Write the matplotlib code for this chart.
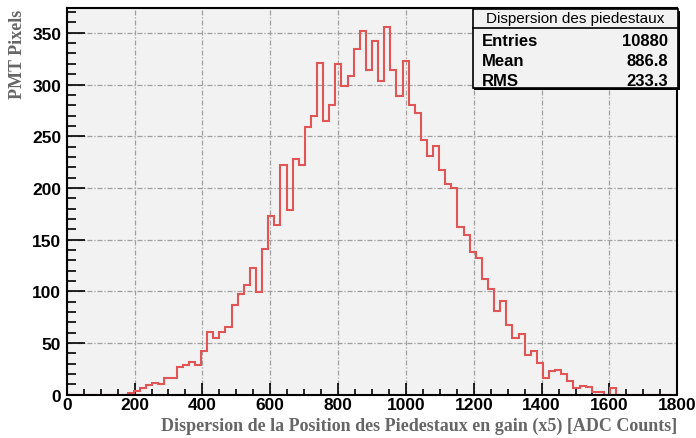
#!/usr/bin/env python
import numpy as np
import matplotlib
matplotlib.use("Agg")
import matplotlib.pyplot as plt
from matplotlib.patches import Rectangle
from matplotlib.ticker import MultipleLocator

# histogram: 100 bins from 0 to 1800 (width 18)
x_lo = 0
x_hi = 1800
n_bins = 100
counts = [0, 0, 0, 0, 0, 0, 0, 0, 0, 0,
          2, 4, 6, 9, 11, 10, 16, 16, 27, 29,
          32, 29, 42, 61, 55, 61, 65, 87, 97, 106,
          123, 99, 141, 173, 164, 222, 179, 228, 222, 259,
          270, 321, 265, 280, 320, 299, 308, 334, 352, 314,
          342, 303, 356, 314, 289, 323, 280, 272, 246, 231,
          241, 217, 204, 200, 162, 154, 138, 132, 112, 102,
          81, 91, 67, 55, 59, 38, 42, 31, 16, 23,
          24, 20, 13, 6, 8, 7, 3, 3, 0, 6,
          0, 0, 0, 0, 0, 0, 0, 0, 0, 0]

stats_title = "Dispersion des piedestaux"
stats_names = ["Entries", "Mean", "RMS"]
stats_values = ["10880", "886.8", "233.3"]

x_title = "Dispersion de la Position des Piedestaux en gain (x5) [ADC Counts]"
y_title = "PMT Pixels"

edges = np.linspace(x_lo, x_hi, n_bins + 1)

W, H = 696, 439
fig = plt.figure(figsize=(W / 100, H / 100), dpi=100)
fig.patch.set_facecolor("white")

# frame in pixels
left, right, top, bottom = 66.7, 677.3, 9.3, 395.7
ax = fig.add_axes([left / W, 1 - bottom / H, (right - left) / W, (bottom - top) / H])
ax.set_facecolor("#f2f2f2")

ax.stairs(counts, edges, color="#e05555", lw=1.5, zorder=2)

ax.set_xlim(x_lo, x_hi)
ax.set_ylim(0, 373.7)

ax.xaxis.set_major_locator(MultipleLocator(200))
ax.xaxis.set_minor_locator(MultipleLocator(50))
ax.yaxis.set_major_locator(MultipleLocator(50))
ax.yaxis.set_minor_locator(MultipleLocator(10))

for s in ax.spines.values():
    s.set_linewidth(1.5)

grid_style = dict(color="#a0a0a0", lw=0.9, dashes=(4, 1.5, 1, 1.5))
ax.grid(True, which="major", **grid_style)
ax.set_axisbelow(True)

tick_font = {"family": "Liberation Sans", "weight": "bold", "size": 12.5}
ax.tick_params(axis="y", which="major", direction="in", length=13, width=1.2, pad=4)
ax.tick_params(axis="y", which="minor", direction="in", length=6.5, width=1.2)
ax.tick_params(axis="x", which="major", direction="in", length=8.3, width=1.2, pad=2)
ax.tick_params(axis="x", which="minor", direction="in", length=4.2, width=1.2)
for lab in ax.get_xticklabels() + ax.get_yticklabels():
    lab.set_fontproperties(matplotlib.font_manager.FontProperties(**tick_font))

title_font = dict(family="Liberation Serif", weight="bold", size=13, color="#666666")
fig.text(right / W, 1 - 426 / H, x_title, ha="right", va="center", **title_font)
fig.text(18 / W, 1 - top / H, y_title, ha="center", va="top", rotation=90, **title_font)

# stats box
bx0, bx1, by0, by1 = 472.5, 677.5, 10, 88.5
sh = 2.0
fig.patches.append(Rectangle(((bx0 + sh) / W, 1 - (by1 + sh) / H), (bx1 - bx0) / W, (by1 - by0) / H,
                             transform=fig.transFigure, facecolor="black", edgecolor="black", lw=0, zorder=5))
fig.patches.append(Rectangle((bx0 / W, 1 - by1 / H), (bx1 - bx0) / W, (by1 - by0) / H,
                             transform=fig.transFigure, facecolor="#f2f2f2", edgecolor="black", lw=1.2, zorder=6))
fig.lines.append(plt.Line2D([bx0 / W, bx1 / W], [1 - 29.3 / H, 1 - 29.3 / H],
                            transform=fig.transFigure, color="black", lw=1.2, zorder=7))
fig.text((bx0 + bx1) / 2 / W, 1 - 19.5 / H, stats_title, ha="center", va="center",
         family="Liberation Sans", size=11, zorder=8)
row_y = [41, 61.5, 81.5]
for name, val, yy in zip(stats_names, stats_values, row_y):
    fig.text(482 / W, 1 - yy / H, name, ha="left", va="center", weight="bold",
             family="Liberation Sans", size=12, zorder=8)
    fig.text(668 / W, 1 - yy / H, val, ha="right", va="center", weight="bold",
             family="Liberation Sans", size=12, zorder=8)

fig.savefig("out.png", dpi=100)
